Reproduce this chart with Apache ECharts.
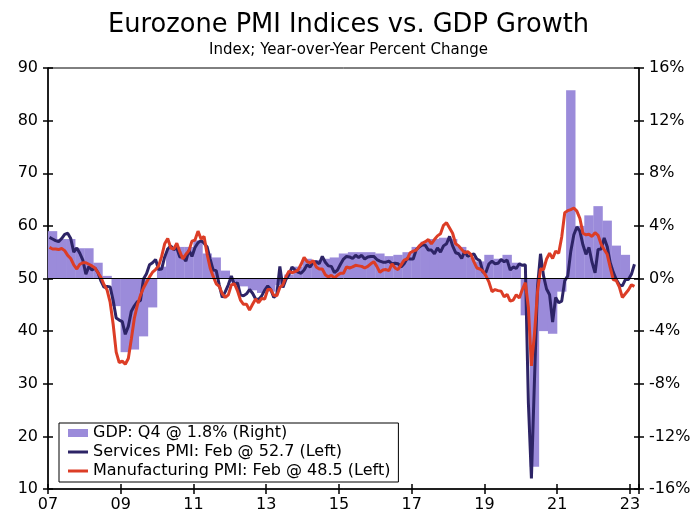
<!DOCTYPE html>
<html><head><meta charset="utf-8">
<script src="https://cdn.jsdelivr.net/npm/echarts@6/dist/echarts.min.js"></script>
<style>html,body{margin:0;padding:0;background:#fff}#chart{width:697px;height:519px}</style>
</head><body><div id="chart"></div>
<script>
const startYear = 2007;
const xTickLabels = ['07','09','11','13','15','17','19','21','23'];
const titleText = 'Eurozone PMI Indices vs. GDP Growth';
const subtitleText = 'Index; Year-over-Year Percent Change';
const seriesNames = ['GDP: Q4 @ 1.8% (Right)', 'Services PMI: Feb @ 52.7 (Left)', 'Manufacturing PMI: Feb @ 48.5 (Left)'];

// GDP, year-over-year % change, quarterly from Q1 2007
const gdpGrowth = [
  3.6, 3.0, 3.0, 2.3,      // 2007
  2.3, 1.2, 0.2, -2.1,     // 2008
  -5.6, -5.4, -4.4, -2.2,  // 2009
  0.9, 2.3, 2.4, 2.4,      // 2010
  2.9, 1.9, 1.6, 0.6,      // 2011
  -0.3, -0.6, -0.9, -1.1,  // 2012
  -1.0, -0.5, 0.3, 0.9,    // 2013
  1.5, 1.4, 1.5, 1.6,      // 2014
  1.9, 2.0, 2.0, 2.0,      // 2015
  1.9, 1.7, 1.8, 2.0,      // 2016
  2.4, 2.8, 3.0, 3.1,      // 2017
  3.0, 2.4, 1.6, 1.3,      // 2018
  1.8, 1.5, 1.8, 1.2,      // 2019
  -2.8, -14.3, -4.0, -4.2, // 2020
  -1.0, 14.3, 4.0, 4.8,    // 2021
  5.5, 4.4, 2.5, 1.8       // 2022
];

// Services PMI, monthly from Jan 2007
const servicesPMI = [
  57.8, 57.5, 57.2, 57.0, 57.6, 58.4, 58.6, 57.6, 55.0, 55.8, 54.8, 53.5, // 2007
  50.8, 52.3, 51.6, 52.0, 51.1, 49.5, 48.3, 48.5, 48.4, 45.8, 42.5, 42.1, // 2008
  41.8, 39.4, 40.9, 43.8, 44.8, 45.6, 45.8, 49.9, 50.9, 52.6, 53.0, 53.6, // 2009
  51.7, 51.8, 54.1, 55.6, 56.2, 55.5, 55.8, 54.1, 54.1, 53.3, 55.4, 54.2, // 2010
  55.9, 56.8, 57.2, 56.7, 56.0, 53.7, 51.6, 51.5, 48.8, 46.4, 47.5, 48.8, // 2011
  50.5, 48.8, 49.2, 46.9, 46.7, 47.1, 47.9, 47.2, 46.1, 46.0, 46.7, 47.8, // 2012
  48.6, 47.9, 46.4, 47.0, 52.3, 48.3, 49.8, 50.7, 52.2, 51.6, 51.2, 51.0, // 2013
  51.6, 52.6, 52.2, 53.1, 53.2, 52.8, 54.2, 53.1, 52.4, 52.3, 51.1, 51.6, // 2014
  52.7, 53.7, 54.2, 54.1, 53.8, 54.4, 54.0, 54.4, 53.7, 54.1, 54.2, 54.2, // 2015
  53.6, 53.3, 53.1, 53.1, 53.3, 52.8, 52.9, 52.8, 52.2, 52.8, 53.8, 53.7, // 2016
  53.7, 55.5, 56.0, 56.4, 56.3, 55.4, 55.4, 54.7, 55.8, 55.0, 56.2, 56.6, // 2017
  58.0, 56.2, 54.9, 54.7, 53.8, 55.2, 54.2, 54.4, 54.7, 53.7, 53.4, 51.2, // 2018
  51.2, 52.8, 53.3, 52.8, 52.9, 53.6, 53.2, 53.5, 51.6, 52.2, 51.9, 52.8, // 2019
  52.5, 52.6, 26.4, 12.0, 30.5, 48.3, 54.7, 50.5, 48.0, 46.9, 41.7, 46.4, // 2020
  45.4, 45.7, 49.6, 50.5, 55.2, 58.3, 59.8, 59.0, 56.4, 54.6, 55.9, 53.1, // 2021
  51.1, 55.5, 55.6, 57.7, 56.1, 53.0, 51.2, 49.8, 48.8, 48.6, 49.8, 49.8, // 2022
  50.8, 52.7                                                              // 2023
];

// Manufacturing PMI, monthly from Jan 2007
const manufacturingPMI = [
  55.9, 55.6, 55.6, 55.5, 55.7, 55.3, 54.4, 53.8, 52.6, 51.8, 52.7, 53.0, // 2007
  53.0, 52.7, 52.4, 52.0, 51.1, 50.2, 48.8, 47.8, 45.5, 41.3, 36.0, 34.0, // 2008
  34.3, 33.7, 34.8, 38.5, 42.5, 45.0, 46.8, 48.2, 49.3, 50.3, 51.2, 51.7, // 2009
  52.4, 54.2, 56.6, 57.6, 55.8, 55.6, 56.7, 55.1, 53.7, 54.6, 55.3, 57.1, // 2010
  57.3, 59.0, 57.5, 58.0, 54.6, 52.0, 50.4, 49.0, 48.5, 47.1, 46.4, 46.9, // 2011
  48.8, 49.0, 47.7, 45.9, 45.1, 45.1, 44.0, 45.1, 46.1, 45.4, 46.2, 46.1, // 2012
  47.9, 47.9, 46.8, 46.7, 48.3, 48.8, 50.3, 51.4, 51.1, 51.3, 51.6, 52.7, // 2013
  54.0, 53.2, 53.0, 53.4, 52.2, 51.8, 51.8, 50.7, 50.3, 50.6, 50.1, 50.6, // 2014
  51.0, 51.0, 52.2, 52.0, 52.2, 52.5, 52.4, 52.3, 52.0, 52.3, 52.8, 53.2, // 2015
  52.3, 51.2, 51.6, 51.7, 51.5, 52.8, 52.0, 51.7, 52.6, 53.5, 53.7, 54.9, // 2016
  55.2, 55.4, 56.2, 56.7, 57.0, 57.4, 56.6, 57.4, 58.1, 58.5, 60.1, 60.6, // 2017
  59.6, 58.6, 56.6, 56.2, 55.5, 54.9, 55.1, 54.6, 53.2, 52.0, 51.8, 51.4, // 2018
  50.5, 49.3, 47.5, 47.9, 47.7, 47.6, 46.5, 47.0, 45.7, 45.9, 46.9, 46.3, // 2019
  47.9, 49.2, 44.5, 33.4, 39.4, 47.4, 51.8, 51.7, 53.7, 54.8, 53.8, 55.2, // 2020
  54.8, 57.9, 62.5, 62.9, 63.1, 63.4, 62.8, 61.4, 58.6, 58.3, 58.4, 58.0, // 2021
  58.7, 58.2, 56.5, 55.5, 54.6, 52.1, 49.8, 49.6, 48.4, 46.4, 47.1, 47.8, // 2022
  48.8, 48.5                                                              // 2023
];

const FONT = 'DejaVu Sans';
// x = years since Jan 2007; months at mid-month, quarters at mid-quarter
const monthly = arr => arr.map((v, i) => [(i + 0.5) / 12, v]);
const quarterly = arr => arr.map((v, i) => [(i + 0.5) / 4, v]);

const xMin = 0, xMax = 16.25;
const xLabel = v => {
  const r = Math.round(v);
  if (Math.abs(v - r) > 1e-6 || r % 2 !== 0) return '';
  return xTickLabels[r / 2] || '';
};
const axisCol = '#000';
function xAx(inside) {
  return {
    type: 'value', min: xMin, max: xMax, interval: 2, position: 'bottom',
    axisLine: { show: !inside, onZero: false, lineStyle: { color: axisCol, width: 1.5 } },
    axisTick: { show: true, inside: inside, length: 5, lineStyle: { color: axisCol, width: 1.5 } },
    axisLabel: { show: !inside, formatter: xLabel, fontSize: 16, color: '#000', fontFamily: FONT, margin: 8 },
    splitLine: { show: false }
  };
}
function yAx(pos, min, max, interval, fmt, inside) {
  return {
    type: 'value', position: pos, min: min, max: max, interval: interval,
    axisLine: { show: !inside, onZero: false, lineStyle: { color: axisCol, width: 1.5 } },
    axisTick: { show: true, inside: inside, length: 5, lineStyle: { color: axisCol, width: 1.5 } },
    axisLabel: { show: !inside, formatter: fmt, fontSize: 16, color: '#000', fontFamily: FONT, margin: 10 },
    splitLine: { show: false }
  };
}
// line swatch: 20x8 box with a 3px bar in the middle
const lineIcon = 'path://M0,0 M20,8 M0,2.5 L20,2.5 L20,5.5 L0,5.5 Z';

const chart = echarts.init(document.getElementById('chart'), null, { renderer: 'canvas' });
chart.setOption({
  animation: false,
  backgroundColor: '#fff',
  title: {
    text: titleText, subtext: subtitleText, left: 'center', top: 7, itemGap: 5,
    textStyle: { fontSize: 25.7, fontWeight: 'normal', color: '#000', fontFamily: FONT },
    subtextStyle: { fontSize: 15, color: '#000', fontFamily: FONT }
  },
  grid: { left: 48, right: 58, top: 68, bottom: 30, show: true, borderColor: '#000', borderWidth: 1, containLabel: false },
  xAxis: [xAx(false), xAx(true)],
  yAxis: [
    yAx('left', 10, 90, 10, '{value}', false),
    yAx('right', -16, 16, 4, '{value}%', false),
    yAx('left', 10, 90, 10, '{value}', true),
    yAx('right', -16, 16, 4, '{value}%', true)
  ],
  legend: {
    orient: 'vertical', left: 59, top: 423, padding: [2, 8, 3, 9], itemGap: 3,
    itemWidth: 20, itemHeight: 8, borderColor: '#000', borderWidth: 1, backgroundColor: '#fff',
    textStyle: { fontSize: 16, color: '#000', fontFamily: FONT },
    data: [
      { name: seriesNames[0], icon: 'rect' },
      { name: seriesNames[1], icon: lineIcon },
      { name: seriesNames[2], icon: lineIcon }
    ]
  },
  series: [
    {
      name: seriesNames[0], type: 'bar', xAxisIndex: 0, yAxisIndex: 1,
      data: quarterly(gdpGrowth), barWidth: 9.4, z: 2,
      itemStyle: { color: '#9b8bda' },
      markLine: {
        silent: true, symbol: ['none', 'none'], label: { show: false },
        lineStyle: { color: '#000', width: 1, type: 'solid' },
        data: [{ yAxis: 0 }]
      }
    },
    {
      name: seriesNames[1], type: 'line', xAxisIndex: 0, yAxisIndex: 0,
      data: monthly(servicesPMI), symbol: 'none', z: 3,
      lineStyle: { color: '#2d2466', width: 3 }, itemStyle: { color: '#2d2466' }
    },
    {
      name: seriesNames[2], type: 'line', xAxisIndex: 0, yAxisIndex: 0,
      data: monthly(manufacturingPMI), symbol: 'none', z: 4,
      lineStyle: { color: '#dc3d26', width: 3 }, itemStyle: { color: '#dc3d26' }
    }
  ]
});
</script></body></html>
